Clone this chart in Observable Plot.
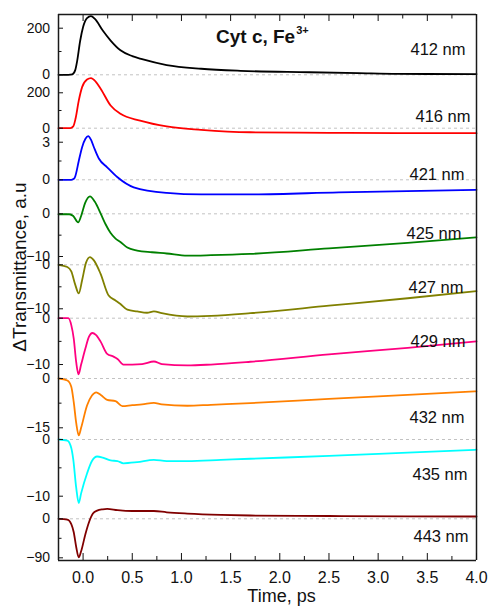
<!DOCTYPE html>
<html>
<head>
<meta charset="utf-8">
<script src="https://cdn.jsdelivr.net/npm/d3@7"></script>
<script src="https://cdn.jsdelivr.net/npm/@observablehq/plot@0.6"></script>
<style>
  body { margin: 0; background: #fff; font-family: "Liberation Sans", Arial, sans-serif; }
  #chart { position: relative; width: 489px; height: 606px; overflow: hidden; background: #fff; }
  .panel { position: absolute; left: 0; }
  .panel svg { overflow: visible; }
  .lbl { position: absolute; white-space: nowrap; color: #111; line-height: 1; }
</style>
</head>
<body>
<div id="chart"></div>
<script>
// ---- data (time in ps, ΔTransmittance in a.u.) ----
const t412 = [-0.25, -0.15, -0.11, -0.08, -0.06, -0.03, 0.0, 0.04, 0.08, 0.12, 0.2, 0.28, 0.38, 0.5, 0.6, 0.85, 1.2, 1.6, 2.3, 2.8, 3.2, 4.0];
const v412 = [0, 0, 2, 20, 60, 145, 205, 243, 252, 240, 190, 147, 105, 80, 67, 42, 26, 17, 11, 7, 4, 3];

const t416 = [-0.25, -0.13, -0.1, -0.077, -0.044, -0.01, 0.04, 0.08, 0.13, 0.18, 0.28, 0.38, 0.58, 0.85, 1.2, 1.7, 2.5, 3.2, 4.0];
const v416 = [0, 0, 10, 53, 156, 232, 275, 283, 262, 222, 128, 81, 43, 10, -9, -23, -26, -28, -28];

const t421 = [-0.25, -0.12, -0.09, -0.077, -0.044, -0.01, 0.024, 0.052, 0.08, 0.11, 0.16, 0.245, 0.35, 0.515, 0.85, 1.2, 1.7, 2.6, 4.0];
const v421 = [0, 0, 0.1, 0.34, 1.5, 2.6, 3.27, 3.48, 3.2, 2.6, 1.7, 1.0, 0.2, -0.6, -1.05, -1.17, -1.17, -1.0, -0.8];

const t425 = [-0.25, -0.14, -0.1, -0.05, -0.02, 0.02, 0.07, 0.12, 0.18, 0.23, 0.28, 0.33, 0.38, 0.45, 0.55, 0.7, 0.85, 1.06, 1.3, 1.7, 2.5, 3.3, 4.0];
const v425 = [-0.1, -0.1, -0.5, -2.0, -0.5, 2.5, 4.1, 2.8, 0, -2.5, -4.5, -5.8, -6.6, -7.9, -8.6, -9.0, -9.3, -9.8, -9.7, -9.4, -8.1, -6.8, -5.5];

const t427 = [-0.25, -0.16, -0.12, -0.08, -0.044, -0.01, 0.03, 0.07, 0.11, 0.177, 0.26, 0.33, 0.38, 0.45, 0.55, 0.65, 0.72, 0.8, 1.06, 1.3, 1.7, 2.5, 3.3, 4.0];
const v427 = [0, -0.5, -1.5, -4.5, -6.5, -3.5, 0.5, 1.75, 1.0, -2.0, -7.0, -8.1, -8.9, -10.2, -10.6, -10.9, -10.6, -11.0, -11.75, -11.6, -11.0, -9.3, -7.6, -6.0];

const t429 = [-0.25, -0.15, -0.12, -0.095, -0.07, -0.047, -0.02, 0.024, 0.06, 0.095, 0.13, 0.177, 0.245, 0.31, 0.35, 0.41, 0.5, 0.6, 0.72, 0.8, 1.06, 1.3, 1.7, 2.5, 3.3, 4.0];
const v429 = [0, 0, -1.5, -4.4, -9.5, -12.1, -10, -6.5, -4, -3.2, -3.6, -5.0, -7.7, -8.3, -8.8, -10.0, -10.0, -9.9, -9.35, -9.9, -10.2, -10.0, -9.4, -7.8, -6.4, -5.0];

const t432 = [-0.25, -0.16, -0.12, -0.095, -0.07, -0.044, -0.02, 0.04, 0.09, 0.133, 0.18, 0.245, 0.33, 0.40, 0.5, 0.6, 0.72, 0.8, 1.06, 1.3, 1.7, 2.5, 3.3, 4.0];
const v432 = [0, -0.6, -2.5, -7.2, -13.5, -17.3, -15, -8.2, -5.2, -4.2, -5.0, -6.5, -6.9, -8.4, -8.1, -7.9, -7.4, -7.9, -8.3, -8.0, -7.5, -6.2, -5.0, -3.9];

const t435 = [-0.25, -0.16, -0.12, -0.1, -0.07, -0.044, -0.02, 0.04, 0.09, 0.143, 0.2, 0.28, 0.35, 0.41, 0.55, 0.72, 0.85, 1.06, 1.4, 1.7, 2.5, 3.3, 4.0];
const v435 = [0, -0.2, -1.5, -3.5, -8.5, -11.2, -9.5, -6.0, -3.8, -3.0, -3.2, -3.7, -3.8, -4.2, -4.0, -3.6, -3.8, -3.8, -3.6, -3.4, -2.9, -2.3, -1.8];

const t443 = [-0.25, -0.16, -0.12, -0.095, -0.07, -0.044, -0.02, 0.024, 0.06, 0.1, 0.143, 0.2, 0.245, 0.35, 0.5, 0.72, 0.85, 1.06, 1.4, 1.7, 2.5, 3.3, 4.0];
const v443 = [0, -2, -12, -31, -65, -89, -75, -35, -8, 12, 19, 22, 23, 20, 18, 18, 15, 12, 9, 7.6, 6.5, 5.8, 5.3];

const wavelengths = ["412 nm", "416 nm", "421 nm", "425 nm", "427 nm", "429 nm", "432 nm", "435 nm", "443 nm"];
const seriesT = [t412, t416, t421, t425, t427, t429, t432, t435, t443];
const seriesV = [v412, v416, v421, v425, v427, v429, v432, v435, v443];

// tick values
const yMajorTicks = [[0, 200], [0, 200], [0, 3], [0, -10], [0, -10], [0, -10], [0, -15], [0, -10], [0, -90]];
const yMinorTicks = [[100], [100], [1.5], [-5], [-5], [-5], [-7.5], [-5], [-45]];
const xMajorTicks = [0, 0.5, 1, 1.5, 2, 2.5, 3, 3.5, 4];
const xMinorTicks = [0.25, 0.75, 1.25, 1.75, 2.25, 2.75, 3.25, 3.75];

// ---- layout / style ----
const colors = ["#000000", "#ff0000", "#0000ff", "#008000", "#808000", "#ff0080", "#ff8000", "#00ffff", "#800000"];
const xDomain = [-0.25, 4.0];
const yDomains = [[-7.3, 258.8], [-35.6, 292], [-1.253, 3.615], [-10.0, 4.29], [-11.98, 1.89], [-12.8, 0.15], [-17.95, 0.30], [-11.64, 0.35], [-96.2, 30.7]];
const panelTops = [14, 76, 134, 195, 256, 317, 377, 437, 505];
const panelBottoms = [76, 134, 195, 256, 317, 377, 437, 505, 560];
const labelOffsets = [[-11, 29], [-6, 34], [-12, 34], [-15, 32], [-13, 25], [-11, 18], [-12, 34], [-9, 31], [-8, 25]];

const FONT = '"Liberation Sans", Arial, sans-serif';
const chart = document.getElementById("chart");

wavelengths.forEach((name, i) => {
  const first = i === 0, last = i === wavelengths.length - 1;
  const mt = first ? 14 : 0, mb = last ? 46 : 0;
  const h = panelBottoms[i] - panelTops[i] + mt + mb;
  const data = seriesT[i].map((t, j) => ({t, v: seriesV[i][j]}));
  const dom = yDomains[i];
  const marks = [
    Plot.ruleY([0], {stroke: "#c2c2c2", strokeWidth: 1, strokeDasharray: "3,3"}),
    Plot.line(data, {x: "t", y: "v", stroke: colors[i], strokeWidth: 1.8, curve: "monotone-x"}),
    Plot.axisY(yMajorTicks[i], {tickSize: 0, tickPadding: 8.5, fontSize: 14, label: null, fill: "#111"}),
    Plot.axisY(yMajorTicks[i], {tickSize: 5, dx: 5, fill: "none", stroke: "#111", label: null}),
    Plot.axisY(yMinorTicks[i], {tickSize: 3.5, dx: 3.5, fill: "none", stroke: "#111", label: null}),
    Plot.ruleX(xDomain, {stroke: "#1a1a1a", strokeWidth: 1.5}),
    Plot.text([name], {text: d => d, frameAnchor: "top-right", dx: labelOffsets[i][0], dy: labelOffsets[i][1], textAnchor: "end", fontSize: 16.5, fill: "#111"})
  ];
  if (first) {
    marks.push(
      Plot.ruleY([dom[1]], {stroke: "#1a1a1a", strokeWidth: 1.5}),
      Plot.axisX(xMajorTicks, {anchor: "top", tickSize: 6, dy: 6, fill: "none", stroke: "#111", label: null}),
      Plot.axisX(xMinorTicks, {anchor: "top", tickSize: 3.5, dy: 3.5, fill: "none", stroke: "#111", label: null})
    );
  }
  if (last) {
    marks.push(
      Plot.ruleY([dom[0]], {stroke: "#1a1a1a", strokeWidth: 1.5}),
      Plot.axisX(xMajorTicks, {anchor: "bottom", tickSize: 0, tickPadding: 11, fontSize: 16, tickFormat: d3.format(".1f"), label: null, fill: "#111"}),
      Plot.axisX(xMajorTicks, {anchor: "bottom", tickSize: 7, dy: -7, fill: "none", stroke: "#111", label: null}),
      Plot.axisX(xMinorTicks, {anchor: "bottom", tickSize: 4, dy: -4, fill: "none", stroke: "#111", label: null})
    );
  }
  const svg = Plot.plot({
    width: 489,
    height: h,
    marginLeft: 58,
    marginRight: 13,
    marginTop: mt,
    marginBottom: mb,
    x: {domain: xDomain, axis: null},
    y: {domain: dom, axis: null},
    style: {background: "transparent", overflow: "visible", fontFamily: FONT, color: "#111"},
    marks
  });
  const wrap = document.createElement("div");
  wrap.className = "panel";
  wrap.style.top = (panelTops[i] - mt) + "px";
  wrap.appendChild(svg);
  chart.appendChild(wrap);
});

// title, axis titles
const title = document.createElement("div");
title.className = "lbl";
title.style.cssText += "left:216px; top:27px; font-size:19px; font-weight:bold; line-height:19px;";
title.innerHTML = 'Cyt c, Fe<span style="font-size:11px; position:relative; top:-9.5px; margin-left:1px;">3+</span>';
chart.appendChild(title);

const xTitle = document.createElement("div");
xTitle.className = "lbl";
xTitle.style.cssText += "left:281.5px; top:587px; transform:translateX(-50%); font-size:18px; line-height:18px;";
xTitle.textContent = "Time, ps";
chart.appendChild(xTitle);

const yTitle = document.createElement("div");
yTitle.className = "lbl";
yTitle.style.cssText += "left:19px; top:267px; transform:translate(-50%,-50%) rotate(-90deg); font-size:19px; line-height:19px;";
yTitle.textContent = "\u0394Transmittance, a.u";
chart.appendChild(yTitle);
</script>
</body>
</html>
